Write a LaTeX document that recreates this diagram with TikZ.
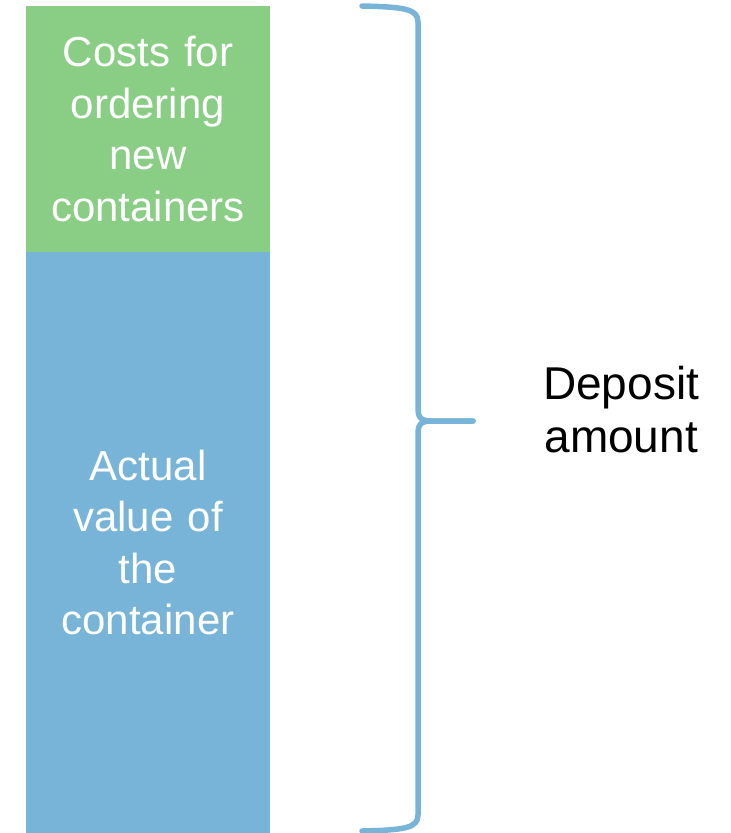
\documentclass[tikz,border=0pt]{standalone}
\usepackage{fontspec}
\setmainfont{Liberation Sans}
\definecolor{boxgreen}{HTML}{8ACE85}
\definecolor{boxblue}{HTML}{77B4D8}
\begin{document}
\begin{tikzpicture}[x=1pt,y=-1pt,
  block/.style={rectangle, inner sep=0pt, minimum width=244pt, text width=240pt,
    align=center, text=white, font=\fontsize{42}{51.5}\selectfont},
  bracepath/.style={draw=boxblue, line width=5.5pt, line cap=round, line join=round}]
\useasboundingbox (0,0) rectangle (731,833);
\node[block, fill=boxgreen, minimum height=246pt] (costs) at (148,129)
  {Costs for\\ordering\\new\\containers};
\node[block, fill=boxblue, minimum height=581pt] (value) at (148,542.5)
  {Actual\\value of\\the\\container};
\coordinate (btop) at (362,6);
\coordinate (bbot) at (362,831);
\coordinate (btip) at (473,421);
\draw[bracepath] (btop) .. controls (405,7) and (418,9) .. (418,22)
  -- (418,408) .. controls (418,418) and (421,421) .. (432,421) -- (btip);
\draw[bracepath] (bbot) .. controls (405,830) and (418,828) .. (418,815)
  -- (418,434) .. controls (418,424) and (421,421) .. (432,421) -- (btip);
\node[font=\fontsize{46}{53}\selectfont, align=center, anchor=west, inner sep=0pt] (deposit) at (543,410)
  {Deposit\\amount};
\end{tikzpicture}
\end{document}
